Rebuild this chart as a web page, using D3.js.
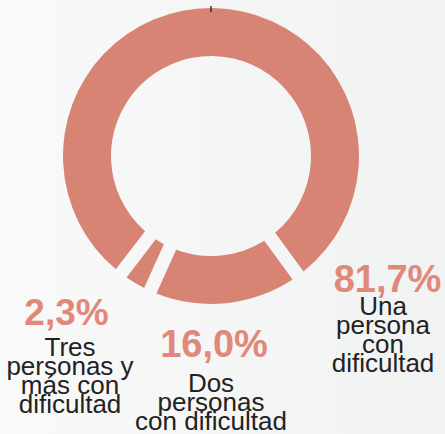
<!DOCTYPE html>
<html>
<head>
<meta charset="utf-8">
<script src="https://cdn.jsdelivr.net/npm/d3@7"></script>
<style>
  html, body { margin: 0; padding: 0; }
  body { width: 445px; height: 434px; overflow: hidden; }
</style>
</head>
<body>
<script>
// slices, in drawing order
var values = [81.7, 16.0, 2.3];
var pctLabels = ["81,7%", "16,0%", "2,3%"];
var descLabels = [
    ["Una", "persona", "con", "dificultad"],
    ["Dos", "personas", "con dificultad"],
    ["Tres", "personas y", "más con", "dificultad"]
];

var w = 445;
var h = 434;
var cx = 211, cy = 156;
var outerR = 148, innerR = 100;

// where the label blocks sit (number baseline, first text baseline)
var labelPos = [
    { nx: 387.5, ny: 291.5, tx: 383, ty: 315 },
    { nx: 214, ny: 356.5, tx: 211, ty: 391.5 },
    { nx: 66.5, ny: 325, tx: 70, ty: 356 }
];
var lineH = 19;

var svg = d3.select("body")
    .append("svg")
    .attr("width", w)
    .attr("height", h);

// light background, slightly greyer to the right
var grad = svg.append("defs").append("linearGradient")
    .attr("id", "bg")
    .attr("x1", "0%").attr("x2", "100%")
    .attr("y1", "0%").attr("y2", "0%");
grad.append("stop").attr("offset", "0%").attr("stop-color", "#f9f9f9");
grad.append("stop").attr("offset", "100%").attr("stop-color", "#f1f2f2");

svg.append("rect")
    .attr("width", w)
    .attr("height", h)
    .attr("fill", "url(#bg)");

var startDeg = 217.4;
var pie = d3.pie()
    .sort(null)
    .startAngle(startDeg * Math.PI / 180)
    .endAngle(startDeg * Math.PI / 180 + 2 * Math.PI)
    .padAngle(13.5 / outerR);

var arc = d3.arc()
    .innerRadius(innerR)
    .outerRadius(outerR)
    .padRadius(outerR);

var g = svg.append("g")
    .attr("transform", "translate(" + cx + "," + cy + ")");

g.selectAll("path")
    .data(pie(values))
    .enter()
    .append("path")
    .attr("d", arc)
    .attr("fill", "#d88474");

// little marker at the top
g.append("line")
    .attr("x1", 0).attr("x2", 0)
    .attr("y1", -outerR - 2).attr("y2", -outerR + 4)
    .attr("stroke", "#333")
    .attr("stroke-width", 1.5);

// labels
var lab = svg.selectAll("g.lab")
    .data(values)
    .enter()
    .append("g")
    .attr("class", "lab");

lab.append("text")
    .attr("x", function (d, i) { return labelPos[i].nx; })
    .attr("y", function (d, i) { return labelPos[i].ny; })
    .attr("text-anchor", "middle")
    .style("font-family", "'Liberation Sans', Arial, sans-serif")
    .style("font-weight", "bold")
    .style("font-size", function (d, i) { return i == 2 ? "37px" : "38px"; })
    .attr("fill", "#e0887a")
    .text(function (d, i) { return pctLabels[i]; });

lab.append("text")
    .attr("text-anchor", "middle")
    .style("font-family", "'Liberation Sans', Arial, sans-serif")
    .style("font-size", "26px")
    .attr("fill", "#222")
    .each(function (d, i) {
        var p = labelPos[i];
        d3.select(this).selectAll("tspan")
            .data(descLabels[i])
            .enter()
            .append("tspan")
            .attr("x", p.tx)
            .attr("y", function (t, j) { return p.ty + j * lineH; })
            .text(function (t) { return t; });
    });
</script>
</body>
</html>
